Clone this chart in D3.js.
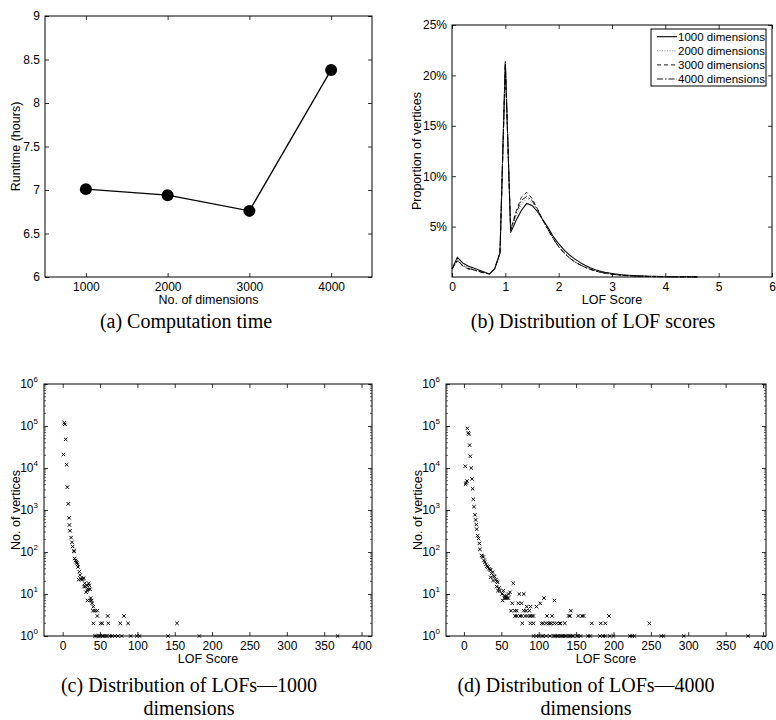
<!DOCTYPE html>
<html lang="en">
<head>
<meta charset="UTF-8">
<title>LOF experiments</title>
<script src="https://d3js.org/d3.v7.min.js"></script>
<style>
    body { margin: 0; background: #fff; }
    text { font-family: "Liberation Sans", Arial, sans-serif; fill: #000; }
    .tick line { stroke: #000; stroke-width: 0.8; }
    .tick text { font-size: 12px; }
    .axis-label { font-size: 12.5px; }
    .caption { font-family: "Liberation Serif", "Times New Roman", serif; font-size: 20px; }
</style>
</head>
<body>
<svg id="fig" width="776" height="720"></svg>
<script>
// (a) runtime vs dimensions
const dims = [1000, 2000, 3000, 4000];
const runtime = [7.01, 6.94, 6.76, 8.38];

// (b) LOF score distribution, % of vertices per 0.1 bin
const lofBins = [0, 0.1, 0.2, 0.3, 0.4, 0.5, 0.6, 0.7, 0.8, 0.9, 1.0, 1.1, 1.2, 1.3, 1.4, 1.5, 1.6, 1.7, 1.8, 1.9,
    2.0, 2.1, 2.2, 2.3, 2.4, 2.5, 2.6, 2.7, 2.8, 2.9, 3.0, 3.1, 3.2, 3.3, 3.4, 3.5, 3.6, 3.7, 3.8, 3.9,
    4.0, 4.1, 4.2, 4.3, 4.4, 4.5, 4.6];
const dim1000 = [0.8, 1.95, 1.4, 1.1, 0.9, 0.7, 0.5, 0.3, 0.8, 2.4, 21.4, 4.4, 5.6, 6.6, 7.3, 7.1, 6.5, 5.7, 4.9, 4.0,
    3.3, 2.7, 2.2, 1.8, 1.45, 1.15, 0.9, 0.7, 0.55, 0.43, 0.34, 0.27, 0.21, 0.17, 0.14, 0.11, 0.09, 0.07, 0.06, 0.05,
    0.04, 0.03, 0.03, 0.02, 0.02, 0.01, 0.01];
const dim2000 = [0.8, 1.75, 1.25, 0.95, 0.8, 0.62, 0.45, 0.3, 0.8, 2.4, 21.3, 4.5, 6.0, 7.2, 7.8, 7.4, 6.6, 5.6, 4.7, 3.8,
    3.05, 2.45, 1.95, 1.55, 1.25, 1.0, 0.78, 0.6, 0.47, 0.37, 0.29, 0.23, 0.18, 0.14, 0.11, 0.09, 0.07, 0.06, 0.05, 0.04,
    0.03, 0.03, 0.02, 0.02, 0.01, 0.01, 0.01];
const dim3000 = [0.8, 1.6, 1.1, 0.8, 0.7, 0.55, 0.4, 0.3, 0.8, 2.4, 21.1, 4.7, 6.5, 7.9, 8.4, 7.8, 6.8, 5.7, 4.7, 3.8,
    3.0, 2.4, 1.9, 1.5, 1.2, 0.95, 0.74, 0.57, 0.45, 0.35, 0.27, 0.21, 0.17, 0.13, 0.1, 0.08, 0.07, 0.05, 0.04, 0.03,
    0.03, 0.02, 0.02, 0.01, 0.01, 0.01, 0.01];
const dim4000 = [0.8, 1.65, 1.15, 0.85, 0.72, 0.57, 0.42, 0.3, 0.8, 2.4, 21.2, 4.6, 6.3, 7.6, 8.0, 7.6, 6.7, 5.7, 4.7, 3.8,
    3.0, 2.4, 1.9, 1.5, 1.2, 0.95, 0.75, 0.58, 0.45, 0.35, 0.28, 0.22, 0.17, 0.13, 0.1, 0.08, 0.07, 0.05, 0.04, 0.03,
    0.03, 0.02, 0.02, 0.01, 0.01, 0.01, 0.01];
const seriesNames = ["1000 dimensions", "2000 dimensions", "3000 dimensions", "4000 dimensions"];

// (c) LOF histogram, 1000 dimensions
const lofC = [2.2, 3, 4, 1, 5.4, 6.3, 7.6, 8.5, 9, 9.8, 11.2, 12.5, 13.4, 14.7, 15.6, 16, 17.4, 18.3, 19.2, 20, 20.5,
    22.3, 23.2, 24.6, 21.4, 26, 27.4, 28.3, 29.5, 28.6, 30.4, 32.6, 34.8, 35.7, 36.6, 31.3, 33, 34, 33, 36.6, 37.5,
    38.8, 39.3, 41, 40.6, 43.3, 46.4, 46.4, 60.3, 82,
    41, 51, 53, 61, 77, 87.5, 153,
    43, 45, 48, 50, 52, 54, 57, 59, 63, 66, 70, 74, 79, 91, 99, 103, 141, 183, 368];
const countC = [120000, 110000, 48000, 21000, 12000, 3500, 1400, 650, 440, 320, 220, 170, 135, 105, 105, 70, 63, 58, 55,
    50, 44, 34, 28, 23, 22, 22, 23, 24, 18, 15, 15, 16, 18, 16, 13, 11, 12, 13, 7, 7, 8, 7, 6, 5, 4, 4, 4, 3, 3, 3,
    2, 2, 2, 2, 2, 2, 2,
    1, 1, 1, 1, 1, 1, 1, 1, 1, 1, 1, 1, 1, 1, 1, 1, 1, 1, 1];

// (d) LOF histogram, 4000 dimensions
const lofD = [4.5, 5.8, 6.3, 7.6, 8.5, 1.8, 9.8, 10.7, 3.1, 4, 2.2, 11.6, 12.5, 13.4, 14.7, 15.6, 16.5, 17, 18.3, 19.6,
    20.5, 21.4, 23.7, 24.6, 26, 26.8, 28, 29.5, 30.8, 32, 33.5, 34.8, 35.7, 37, 38.4, 35.7, 39.7, 41, 39, 42.8, 44, 45,
    43.8, 47, 48, 45.5, 52.7, 50.9, 51.8, 54, 56, 58, 59.4, 59.8, 61.6, 54.5, 56.7, 66, 74, 80, 107, 121,
    64.7, 72.8, 77, 102, 84, 89, 97, 63, 68, 70.5, 80, 83, 87.5, 143,
    68.4, 70.7, 75, 77.3, 82, 85, 88.5, 90.7, 93, 111, 118, 140, 142, 153, 158, 160, 194,
    78, 89, 93, 104, 106, 110, 113, 115, 117, 121, 124, 128, 129, 135, 171, 183, 189, 248,
    93, 97, 100, 104, 106, 110, 115, 120, 122, 124, 126, 129, 131, 133, 135, 137, 140, 142, 144, 146, 151, 153, 156,
    166, 169, 182, 186, 189, 195, 200, 222, 225, 228, 264, 267, 294, 380];
const countD = [88000, 69000, 64000, 35000, 19000, 11000, 10000, 5500, 4400, 4900, 4100, 3200, 1800, 1200, 770, 580,
    450, 350, 245, 210, 160, 115, 83, 79, 76, 63, 58, 51, 46, 44, 40, 38, 37, 31, 33, 25, 27, 26, 21, 22, 20, 19,
    15, 14, 12, 12, 12, 10, 7, 8, 8, 8, 8, 10, 11, 9, 9, 18, 10, 10, 8, 7,
    6, 6, 6, 6, 5, 5, 5, 4, 4, 4, 4, 4, 4, 4,
    3, 3, 3, 3, 3, 3, 3, 3, 3, 3, 3, 3, 3, 3, 3, 3, 3,
    2, 2, 2, 2, 2, 2, 2, 2, 2, 2, 2, 2, 2, 2, 2, 2, 2, 2,
    1, 1, 1, 1, 1, 1, 1, 1, 1, 1, 1, 1, 1, 1, 1, 1, 1, 1, 1, 1, 1, 1, 1,
    1, 1, 1, 1, 1, 1, 1, 1, 1, 1, 1, 1, 1, 1];

const svg = d3.select("#fig");
const TICK = 4;

// draws the boxed MATLAB-style frame: inward ticks on all four sides
function frame(p, x, y, xVals, yVals, xFmt, yFmt) {
    svg.append("g").attr("transform", `translate(0,${p.bottom})`)
        .call(d3.axisBottom(x).tickValues(xVals).tickSize(-TICK).tickPadding(5).tickFormat(xFmt));
    svg.append("g").attr("transform", `translate(0,${p.top})`)
        .call(d3.axisTop(x).tickValues(xVals).tickSize(-TICK).tickFormat(""));
    svg.append("g").attr("transform", `translate(${p.left},0)`)
        .call(d3.axisLeft(y).tickValues(yVals).tickSize(-TICK).tickPadding(5).tickFormat(yFmt));
    svg.append("g").attr("transform", `translate(${p.right},0)`)
        .call(d3.axisRight(y).tickValues(yVals).tickSize(-TICK).tickFormat(""));
    svg.selectAll(".domain").remove();
    svg.append("rect")
        .attr("x", p.left).attr("y", p.top)
        .attr("width", p.right - p.left).attr("height", p.bottom - p.top)
        .attr("fill", "none").attr("stroke", "#000").attr("stroke-width", 1);
}

function labels(p, xText, yText, yLabelX) {
    svg.append("text").attr("class", "axis-label")
        .attr("x", (p.left + p.right) / 2).attr("y", p.bottom + 27)
        .attr("text-anchor", "middle").text(xText);
    svg.append("text").attr("class", "axis-label")
        .attr("transform", `translate(${yLabelX},${(p.top + p.bottom) / 2}) rotate(-90)`)
        .attr("text-anchor", "middle").attr("dy", "0.35em").text(yText);
}

function caption(cx, y, lines) {
    lines.forEach((t, i) => {
        svg.append("text").attr("class", "caption")
            .attr("x", cx).attr("y", y + i * 23)
            .attr("text-anchor", "middle").text(t);
    });
}

// ---------------- (a) ----------------
const pA = { left: 45, right: 372, top: 16, bottom: 277 };
const xA = d3.scaleLinear().domain([500, 4500]).range([pA.left, pA.right]);
const yA = d3.scaleLinear().domain([6, 9]).range([pA.bottom, pA.top]);
frame(pA, xA, yA, dims, [6, 6.5, 7, 7.5, 8, 8.5, 9], d => d, d => d);
labels(pA, "No. of dimensions", "Runtime (hours)", 16);

svg.append("path")
    .datum(dims.map((d, i) => [d, runtime[i]]))
    .attr("fill", "none").attr("stroke", "#000").attr("stroke-width", 1.3)
    .attr("d", d3.line().x(d => xA(d[0])).y(d => yA(d[1])));
svg.selectAll(".dot").data(runtime).enter().append("circle")
    .attr("cx", (d, i) => xA(dims[i])).attr("cy", d => yA(d))
    .attr("r", 6).attr("fill", "#000");

// ---------------- (b) ----------------
const pB = { left: 452, right: 772, top: 25, bottom: 277 };
const xB = d3.scaleLinear().domain([0, 6]).range([pB.left, pB.right]);
const yB = d3.scaleLinear().domain([0, 25]).range([pB.bottom, pB.top]);
frame(pB, xB, yB, [0, 1, 2, 3, 4, 5, 6], [5, 10, 15, 20, 25], d => d, d => d + "%");
labels(pB, "LOF Score", "Proportion of vertices", 417);

const styles = [
    { stroke: "#000", dash: null, width: 1.1 },
    { stroke: "#888", dash: "1,1.5", width: 1 },
    { stroke: "#000", dash: "4,3", width: 0.9 },
    { stroke: "#000", dash: "6,2,1.5,2", width: 0.9 }
];
const lineB = d3.line().x((d, i) => xB(lofBins[i])).y(d => yB(d));
[dim1000, dim2000, dim3000, dim4000].forEach((s, k) => {
    svg.append("path").datum(s)
        .attr("fill", "none").attr("stroke", styles[k].stroke)
        .attr("stroke-width", styles[k].width)
        .attr("stroke-dasharray", styles[k].dash)
        .attr("d", lineB);
});

// legend
const lg = svg.append("g").attr("transform", "translate(651,29)");
lg.append("rect").attr("width", 115).attr("height", 57)
    .attr("fill", "#fff").attr("stroke", "#000").attr("stroke-width", 1);
seriesNames.forEach((name, k) => {
    const yy = 7.7 + k * 14.1;
    lg.append("line").attr("x1", 6).attr("x2", 26).attr("y1", yy).attr("y2", yy)
        .attr("stroke", styles[k].stroke).attr("stroke-width", styles[k].width)
        .attr("stroke-dasharray", styles[k].dash);
    lg.append("text").attr("x", 27).attr("y", yy + 4)
        .style("font-size", "11.5px").text(name);
});

// ---------------- (c) & (d) ----------------
const decades = [1, 10, 100, 1000, 10000, 100000, 1000000];
const minors = [];
decades.slice(0, -1).forEach(d => { for (let m = 2; m <= 9; m++) minors.push(d * m); });

function scatterPanel(p, xDomain, xs, ys, yLabelX) {
    const x = d3.scaleLinear().domain(xDomain).range([p.left, p.right]);
    const y = d3.scaleLog().domain([1, 1e6]).range([p.bottom, p.top]);
    frame(p, x, y, d3.range(0, 401, 50), decades, d => d, () => "");
    // minor log ticks on left and right
    svg.append("g").selectAll("line").data(minors).enter().append("line")
        .attr("x1", p.left).attr("x2", p.left + 2)
        .attr("y1", d => y(d)).attr("y2", d => y(d))
        .attr("stroke", "#000").attr("stroke-width", 0.6);
    svg.append("g").selectAll("line").data(minors).enter().append("line")
        .attr("x1", p.right).attr("x2", p.right - 2)
        .attr("y1", d => y(d)).attr("y2", d => y(d))
        .attr("stroke", "#000").attr("stroke-width", 0.6);
    // 10^k labels
    decades.forEach((d, k) => {
        const t = svg.append("text").attr("x", p.left - 6).attr("y", y(d) + 4)
            .attr("text-anchor", "end").style("font-size", "12px");
        t.append("tspan").text("10");
        t.append("tspan").attr("dy", -6).style("font-size", "8px").text(k);
    });
    labels(p, "LOF Score", "No. of vertices", yLabelX);
    const s = 1.7;
    svg.append("g").selectAll("path").data(xs).enter().append("path")
        .attr("d", (d, i) => {
            const cx = x(d), cy = y(ys[i]);
            return `M${cx - s},${cy - s}L${cx + s},${cy + s}M${cx - s},${cy + s}L${cx + s},${cy - s}`;
        })
        .attr("stroke", "#000").attr("stroke-width", 1).attr("fill", "none");
}

scatterPanel({ left: 44, right: 372, top: 384, bottom: 636 }, [-25, 414], lofC, countC, 16);
scatterPanel({ left: 446, right: 766, top: 384, bottom: 636 }, [-24, 404], lofD, countD, 418);

// ---------------- captions ----------------
caption(186, 328, ["(a) Computation time"]);
caption(593, 328, ["(b) Distribution of LOF scores"]);
caption(189, 692, ["(c) Distribution of LOFs\u20141000", "dimensions"]);
caption(586, 692, ["(d) Distribution of LOFs\u20144000", "dimensions"]);
</script>
</body>
</html>
